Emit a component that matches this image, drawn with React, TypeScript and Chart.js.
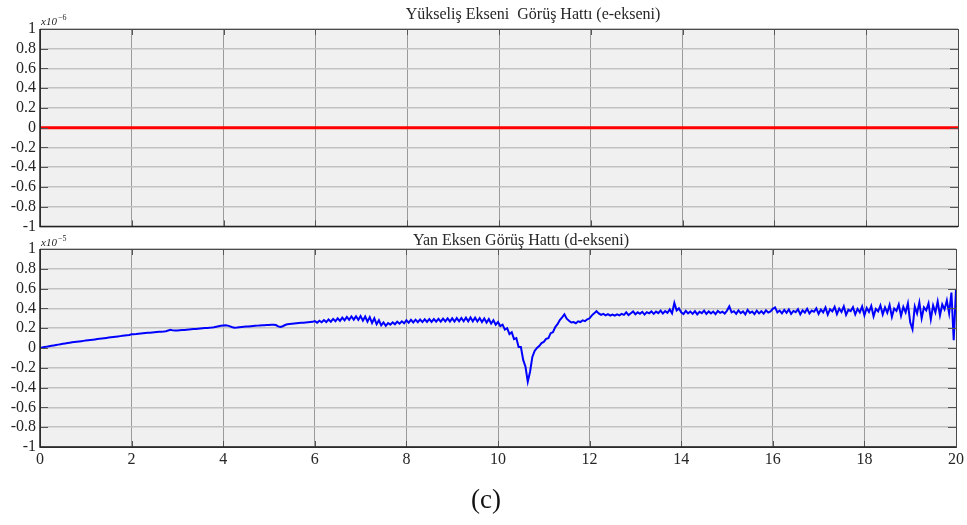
import React, { useEffect, useRef } from 'react';
import { Chart, registerables } from 'chart.js';

Chart.register(...registerables);

// ---------------- DATA ----------------
const xTickValues = [0, 2, 4, 6, 8, 10, 12, 14, 16, 18, 20];
const xTickLabels = ['0', '2', '4', '6', '8', '10', '12', '14', '16', '18', '20'];
const yTickValues = [-1, -0.8, -0.6, -0.4, -0.2, 0, 0.2, 0.4, 0.6, 0.8, 1];
const yTickLabels = ['-1', '-0.8', '-0.6', '-0.4', '-0.2', '0', '0.2', '0.4', '0.6', '0.8', '1'];

const topTitle = 'Yükseliş Ekseni  Görüş Hattı (e-ekseni)';
const bottomTitle = 'Yan Eksen Görüş Hattı (d-ekseni)';
const topExponent = '−6';
const bottomExponent = '−5';
const caption = '(c)';

// Elevation axis line of sight (x10^-6)
const elevationTimes = [0, 1, 2, 3, 4, 5, 6, 7, 8, 9, 10, 11, 12, 13, 14, 15, 16, 17, 18, 19, 20];
const elevationValues = [0, 0, 0, 0, 0, 0, 0, 0, 0, 0, 0, 0, 0, 0, 0, 0, 0, 0, 0, 0, 0];

// Lateral axis line of sight (x10^-5), sampled every 0.05 s from t = 0
const lateralStart = 0;
const lateralStep = 0.05;
const lateralValues = [
  // 0.00 - 0.95
  0.000, 0.005, 0.010, 0.014, 0.018, 0.022, 0.026, 0.030, 0.034, 0.038, 0.042, 0.046, 0.050, 0.054, 0.057, 0.060, 0.063, 0.066, 0.069, 0.072,
  // 1.00 - 1.95
  0.075, 0.078, 0.081, 0.084, 0.087, 0.090, 0.093, 0.096, 0.099, 0.102, 0.105, 0.108, 0.111, 0.114, 0.117, 0.120, 0.123, 0.126, 0.129, 0.132,
  // 2.00 - 2.95
  0.138, 0.140, 0.142, 0.145, 0.147, 0.149, 0.151, 0.153, 0.155, 0.157, 0.159, 0.161, 0.163, 0.165, 0.167, 0.170, 0.177, 0.183, 0.178, 0.176,
  // 3.00 - 3.95
  0.177, 0.179, 0.181, 0.183, 0.185, 0.187, 0.189, 0.191, 0.193, 0.195, 0.197, 0.199, 0.201, 0.203, 0.205, 0.207, 0.210, 0.215, 0.220, 0.225,
  // 4.00 - 4.95
  0.228, 0.230, 0.226, 0.218, 0.210, 0.205, 0.207, 0.210, 0.212, 0.214, 0.216, 0.218, 0.220, 0.222, 0.224, 0.226, 0.228, 0.230, 0.231, 0.232,
  // 5.00 - 5.95
  0.233, 0.234, 0.235, 0.232, 0.218, 0.212, 0.220, 0.232, 0.240, 0.243, 0.246, 0.248, 0.250, 0.252, 0.254, 0.256, 0.258, 0.260, 0.262, 0.264,
  // 6.00 - 6.95
  0.272, 0.256, 0.276, 0.260, 0.282, 0.262, 0.288, 0.266, 0.294, 0.270, 0.300, 0.274, 0.306, 0.280, 0.314, 0.284, 0.318, 0.286, 0.320, 0.284,
  // 7.00 - 7.95
  0.322, 0.276, 0.318, 0.266, 0.312, 0.252, 0.300, 0.240, 0.280, 0.228, 0.258, 0.224, 0.252, 0.236, 0.260, 0.240, 0.266, 0.246, 0.270, 0.250,
  // 8.00 - 8.95
  0.280, 0.256, 0.284, 0.258, 0.286, 0.260, 0.288, 0.262, 0.290, 0.264, 0.292, 0.264, 0.292, 0.266, 0.294, 0.266, 0.296, 0.268, 0.298, 0.268,
  // 9.00 - 9.95
  0.300, 0.268, 0.302, 0.270, 0.304, 0.270, 0.306, 0.270, 0.308, 0.270, 0.306, 0.268, 0.302, 0.262, 0.298, 0.256, 0.292, 0.246, 0.280, 0.236,
  // 10.00 - 10.95
  0.262, 0.222, 0.236, 0.186, 0.200, 0.140, 0.160, 0.090, 0.100, 0.010, 0.010, -0.120, -0.190, -0.340, -0.240, -0.090, -0.030, 0.000, 0.020, 0.050,
  // 11.00 - 11.95
  0.062, 0.092, 0.100, 0.150, 0.160, 0.212, 0.240, 0.282, 0.310, 0.340, 0.296, 0.276, 0.258, 0.262, 0.250, 0.270, 0.262, 0.280, 0.272, 0.290,
  // 12.00 - 12.95
  0.300, 0.330, 0.350, 0.372, 0.350, 0.335, 0.345, 0.330, 0.342, 0.328, 0.338, 0.326, 0.340, 0.330, 0.345, 0.335, 0.360, 0.332, 0.350, 0.370,
  // 13.00 - 13.95
  0.340, 0.360, 0.345, 0.365, 0.338, 0.362, 0.350, 0.370, 0.345, 0.368, 0.352, 0.378, 0.348, 0.372, 0.355, 0.390, 0.350, 0.455, 0.380, 0.400,
  // 14.00 - 14.95
  0.360, 0.342, 0.375, 0.350, 0.368, 0.345, 0.372, 0.340, 0.366, 0.352, 0.378, 0.344, 0.370, 0.350, 0.368, 0.342, 0.374, 0.355, 0.366, 0.348,
  // 15.00 - 15.95
  0.378, 0.420, 0.360, 0.372, 0.345, 0.380, 0.352, 0.370, 0.340, 0.385, 0.355, 0.368, 0.342, 0.378, 0.350, 0.372, 0.346, 0.380, 0.358, 0.370,
  // 16.00 - 16.95
  0.395, 0.410, 0.360, 0.378, 0.350, 0.384, 0.356, 0.390, 0.345, 0.374, 0.362, 0.392, 0.340, 0.380, 0.358, 0.396, 0.350, 0.378, 0.366, 0.400,
  // 17.00 - 17.95
  0.345, 0.388, 0.360, 0.410, 0.338, 0.392, 0.370, 0.415, 0.342, 0.398, 0.364, 0.420, 0.335, 0.386, 0.372, 0.412, 0.340, 0.396, 0.360, 0.420,
  // 18.00 - 18.95
  0.330, 0.405, 0.365, 0.425, 0.320, 0.395, 0.370, 0.430, 0.340, 0.410, 0.355, 0.435, 0.315, 0.400, 0.375, 0.440, 0.325, 0.415, 0.360, 0.450,
  // 19.00 - 19.95
  0.260, 0.190, 0.420, 0.350, 0.460, 0.300, 0.410, 0.380, 0.450, 0.290, 0.430, 0.360, 0.470, 0.330, 0.440, 0.390, 0.480, 0.350, 0.560, 0.080,
  // 20.00
  0.590,
];

// ---------------- STYLE ----------------
const SERIF = "'Liberation Serif', 'Times New Roman', serif";
const TEXT = '#262626';

function framePlugin(id: string, title: string, titleX: number, titleY: number, exponent: string, expY: number) {
  return {
    id,
    beforeDraw(chart: any) {
      const { ctx, chartArea: a } = chart;
      ctx.save();
      ctx.fillStyle = '#f0f0f0';
      ctx.fillRect(a.left, a.top, a.right - a.left, a.bottom - a.top);
      ctx.restore();
    },
    afterDraw(chart: any) {
      const { ctx, chartArea: a, scales } = chart;
      ctx.save();
      // inside tick marks
      ctx.strokeStyle = '#555';
      ctx.lineWidth = 1;
      ctx.beginPath();
      for (const v of yTickValues) {
        const y = Math.round(scales.y.getPixelForValue(v)) + 0.5;
        ctx.moveTo(a.left, y);
        ctx.lineTo(a.left + 8, y);
        ctx.moveTo(a.right, y);
        ctx.lineTo(a.right - 8, y);
      }
      for (const v of xTickValues) {
        const x = Math.round(scales.x.getPixelForValue(v)) + 0.5;
        ctx.moveTo(x, a.bottom);
        ctx.lineTo(x, a.bottom - 6);
        ctx.moveTo(x, a.top);
        ctx.lineTo(x, a.top + 6);
      }
      ctx.stroke();
      // frame
      ctx.strokeStyle = '#4a4a4a';
      ctx.lineWidth = 1;
      ctx.strokeRect(Math.round(a.left) + 0.5, Math.round(a.top) + 0.5, Math.round(a.right - a.left), Math.round(a.bottom - a.top));
      ctx.strokeStyle = '#222';
      ctx.lineWidth = 1.5;
      ctx.beginPath();
      ctx.moveTo(a.left, a.top);
      ctx.lineTo(a.left, a.bottom);
      ctx.lineTo(a.right, a.bottom);
      ctx.stroke();
      // title
      ctx.fillStyle = TEXT;
      ctx.font = `16px ${SERIF}`;
      ctx.textAlign = 'center';
      ctx.textBaseline = 'alphabetic';
      ctx.fillText(title, titleX, titleY);
      // exponent label
      ctx.textAlign = 'left';
      ctx.font = `italic 11px ${SERIF}`;
      const base = 'x10';
      ctx.fillText(base, a.left + 1, expY);
      const w = ctx.measureText(base).width;
      ctx.font = `8px ${SERIF}`;
      ctx.fillText(exponent, a.left + 1 + w + 1, expY - 5);
      ctx.restore();
    },
  };
}

function yAxis() {
  return {
    type: 'linear',
    min: -1,
    max: 1,
    afterBuildTicks: (s: any) => {
      s.ticks = yTickValues.map((v) => ({ value: v }));
    },
    afterFit: (s: any) => {
      s.width = 40;
    },
    grid: { color: '#c2c2c2', lineWidth: 1.5, drawTicks: false },
    border: { display: false },
    ticks: {
      padding: 4,
      color: TEXT,
      autoSkip: false,
      font: { family: SERIF, size: 16 },
      callback: (value: number) => {
        const i = yTickValues.findIndex((v) => Math.abs(v - value) < 1e-6);
        return i >= 0 ? yTickLabels[i] : '';
      },
    },
  };
}

function xAxis(showLabels: boolean, height: number) {
  return {
    type: 'linear',
    min: 0,
    max: 20,
    afterBuildTicks: (s: any) => {
      s.ticks = xTickValues.map((v) => ({ value: v }));
    },
    afterFit: (s: any) => {
      s.height = height;
    },
    grid: { color: '#9a9a9a', lineWidth: 1, drawTicks: false },
    border: { display: false },
    ticks: {
      display: showLabels,
      padding: 3,
      color: TEXT,
      font: { family: SERIF, size: 16 },
      maxRotation: 0,
      autoSkip: false,
      callback: (value: number) => {
        const i = xTickValues.findIndex((v) => Math.abs(v - value) < 1e-6);
        return i >= 0 ? xTickLabels[i] : '';
      },
    },
  };
}

export default function App() {
  const topRef = useRef<HTMLCanvasElement | null>(null);
  const bottomRef = useRef<HTMLCanvasElement | null>(null);

  useEffect(() => {
    const elevationData = elevationTimes.map((t, i) => ({ x: t, y: elevationValues[i] }));
    const lateralData = lateralValues.map((v, i) => ({ x: lateralStart + i * lateralStep, y: v }));

    const top = new Chart(topRef.current as HTMLCanvasElement, {
      type: 'line',
      data: {
        datasets: [
          {
            data: elevationData,
            borderColor: '#ff0000',
            borderWidth: 3,
            pointRadius: 0,
            tension: 0,
          },
        ],
      },
      options: {
        responsive: false,
        animation: false,
        layout: { padding: { top: 29, bottom: 12, left: 0, right: 9 } },
        plugins: { legend: { display: false }, tooltip: { enabled: false } },
        scales: { x: xAxis(false, 0) as any, y: yAxis() as any },
      },
      plugins: [framePlugin('frameTop', topTitle, 533, 19, topExponent, 25)],
    });

    const bottom = new Chart(bottomRef.current as HTMLCanvasElement, {
      type: 'line',
      data: {
        datasets: [
          {
            data: lateralData,
            borderColor: '#0000ff',
            borderWidth: 2,
            pointRadius: 0,
            tension: 0,
          },
        ],
      },
      options: {
        responsive: false,
        animation: false,
        layout: { padding: { top: 17, bottom: 0, left: 0, right: 9 } },
        plugins: { legend: { display: false }, tooltip: { enabled: false } },
        scales: { x: xAxis(true, 35) as any, y: yAxis() as any },
      },
      plugins: [framePlugin('frameBottom', bottomTitle, 521, 13, bottomExponent, 14)],
    });

    return () => {
      top.destroy();
      bottom.destroy();
    };
  }, []);

  return (
    <div style={{ position: 'absolute', left: 0, top: 0, width: 967, height: 525, background: '#ffffff', overflow: 'hidden' }}>
      <canvas ref={topRef} width={967} height={240} style={{ position: 'absolute', left: 0, top: 0, display: 'block' }} />
      <canvas ref={bottomRef} width={967} height={250} style={{ position: 'absolute', left: 0, top: 232, display: 'block' }} />
      <div
        style={{
          position: 'absolute',
          left: 0,
          width: 972,
          top: 482,
          textAlign: 'center',
          fontFamily: SERIF,
          fontSize: 27,
          color: '#111',
          lineHeight: '34px',
        }}
      >
        {caption}
      </div>
    </div>
  );
}
